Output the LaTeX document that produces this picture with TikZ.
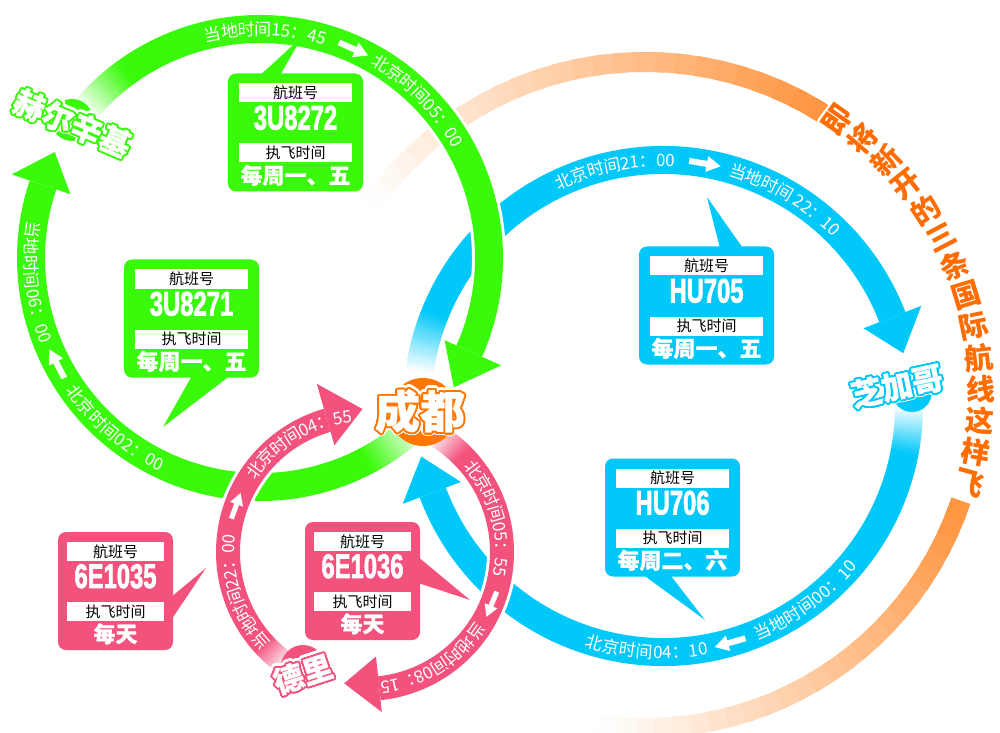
\documentclass[tikz,border=0pt]{standalone}
\usepackage{fontspec}
\usepackage{graphicx}
\usepackage{contour}
\usetikzlibrary{positioning,decorations.text}
\newfontfamily\cjk{Noto Sans CJK SC}
\newfontfamily\cjkheavy{Noto Sans CJK SC}[FakeBold=1, BoldFeatures={FakeBold=0.7}]
\newfontfamily\numfont{Liberation Sans}[BoldFeatures={FakeBold=2.5}]
\definecolor{flgreen}{RGB}{58,250,12}
\definecolor{flblue}{RGB}{0,200,248}
\definecolor{flpink}{RGB}{242,82,124}
\definecolor{cdorange}{RGB}{255,118,0}
\definecolor{bandorange}{RGB}{255,150,66}
\definecolor{titleorange}{RGB}{255,108,0}
\contournumber{32}
\newcommand\arcfont{\cjk\fontsize{17}{17}\selectfont}

\tikzset{
  infobox/.style={rectangle, rounded corners=8pt, minimum height=118pt, inner sep=0pt},
  infobar/.style={fill=white, minimum height=19pt, inner sep=0pt, text=black,
    font=\cjk\fontsize{15}{15}\selectfont},
  infono/.style={inner sep=0pt, text=white, font=\numfont\bfseries\fontsize{34}{34}\selectfont},
  infodays/.style={inner sep=0pt, text=white, font=\cjkheavy\bfseries\fontsize{22}{22}\selectfont},
  citydot/.style={circle, inner sep=0pt},
  citytext/.style={inner sep=0pt, text=white, font=\cjkheavy\bfseries\fontsize{#1}{#1}\selectfont},
  titlechar/.style={inner sep=0pt, text=titleorange, font=\cjk\bfseries\fontsize{29}{29}\selectfont},
  arctext/.style={decorate, decoration={text along path, raise=-6.5pt, text color=white,
    text={|\arcfont|#1}}},
  timearrow/.pic={\fill[white] (-16,-3) -- (2,-3) -- (2,-8) -- (16,0) -- (2,8) -- (2,3) -- (-16,3) -- cycle;}
}

% colour, centre, radius, width, white angle, full angle, end angle
\newcommand\fadeband[7]{%
  \draw[white, line width=#4pt+6pt] ([shift={(#5:#3pt)}]#2) arc[start angle=#5, end angle=#7, radius=#3pt];
  \foreach \k in {0,...,23}{%
    \pgfmathsetmacro\angA{(#5)+((#6)-(#5))*\k/24}%
    \pgfmathsetmacro\angB{(#5)+((#6)-(#5))*(\k+1.5)/24}%
    \pgfmathtruncatemacro\mixpc{100*(\k+0.5)/24}%
    \draw[#1!\mixpc!white, line width=#4pt] ([shift={(\angA:#3pt)}]#2) arc[start angle=\angA, end angle=\angB, radius=#3pt];
  }
  \draw[#1, line width=#4pt] ([shift={(#6:#3pt)}]#2) arc[start angle=#6, end angle=#7, radius=#3pt];
}
% colour, centre, radius, half width, base angle, tip angle
\newcommand\flighttip[6]{%
  \fill[#1] ([shift={({#5}:{#3pt+#4pt})}]#2) -- ([shift={({#6}:{#3pt})}]#2)
    -- ([shift={({#5}:{#3pt-#4pt})}]#2) -- cycle;
}
% name, position, width, bar width, colour, number, days
\newcommand\flightinfo[7]{%
  \node[infobox, fill=#5, minimum width=#3] (#1) at (#2) {};
  \node[infobar, minimum width=#4, below=10pt of #1.north] (#1-a) {航班号};
  \node[infono] (#1-b) at ([yshift=-44.5pt]#1.north) {\scalebox{0.7}[1]{#6}};
  \node[infobar, minimum width=#4, below=70pt of #1.north] (#1-c) {执飞时间};
  \node[infodays] (#1-d) at ([yshift=-102pt]#1.north) {#7};
}
% name, position, rotation, size, colour, text
\newcommand\cityname[6]{%
  \node[citytext=#4, rotate=#3] (#1-halo) at (#2) {\contourlength{3.8pt}\contour{white}{#6}};
  \node[citytext=#4, rotate=#3] (#1-name) at (#2) {\contourlength{1.8pt}\contour{#5}{#6}};
}

\begin{document}
\begin{tikzpicture}[x=1pt, y=1pt]
  \useasboundingbox (0,0) rectangle (1000,732);
  \fill[white] (0,0) rectangle (1000,732);
  \coordinate (cg) at (260,474);
  \coordinate (cb) at (663,326);
  \coordinate (cp) at (365,180);
  \coordinate (co) at (645,337);

  \fadeband{bandorange}{co}{333}{20}{145}{60}{57}
  \fadeband{bandorange}{co}{333}{20}{-98}{-22}{-18.5}

  \fadeband{flblue}{cb}{246}{28}{172}{158}{21.2}
  \flighttip{flblue}{cb}{246}{31}{21.2}{12.4}
  \fadeband{flblue}{cb}{246}{28}{0}{-11}{-159.4}
  \flighttip{flblue}{cb}{247}{31}{-159.4}{-168.2}

  \fadeband{flgreen}{cg}{229}{28}{-47}{-62}{-198.6}
  \flighttip{flgreen}{cg}{231}{31}{-198.6}{-207.3}
  \fadeband{flgreen}{cg}{229}{28}{140}{126}{-24}
  \flighttip{flgreen}{cg}{233}{31}{-24}{-33.7}

  \fadeband{flpink}{cp}{137}{24}{60}{45}{-84}
  \flighttip{flpink}{cp}{133}{28}{-84}{-99}
  \fadeband{flpink}{cp}{137}{24}{236}{222}{106}
  \flighttip{flpink}{cp}{143}{32}{106}{91}

  \path[arctext=当地时间15：45] ([shift={(104:229pt)}]cg) arc[start angle=104, end angle=66, radius=229pt];
  \path[arctext=北京时间05：00] ([shift={(60.3:229pt)}]cg) arc[start angle=60.3, end angle=20, radius=229pt];
  \path[arctext=当地时间06：00] ([shift={(170.8:229pt)}]cg) arc[start angle=170.8, end angle=212, radius=229pt];
  \path[arctext=北京时间02：00] ([shift={(214.2:229pt)}]cg) arc[start angle=214.2, end angle=255, radius=229pt];
  \path[arctext=北京时间21：00] ([shift={(115.8:246pt)}]cb) arc[start angle=115.8, end angle=82, radius=246pt];
  \path[arctext=当地时间 22：10] ([shift={(74.2:246pt)}]cb) arc[start angle=74.2, end angle=35, radius=246pt];
  \path[arctext=北京时间04：10] ([shift={(251.9:246pt)}]cb) arc[start angle=251.9, end angle=283, radius=246pt];
  \path[arctext=当地时间00：10] ([shift={(291.9:246pt)}]cb) arc[start angle=291.9, end angle=330, radius=246pt];
  \path[arctext=北京时间05：55] ([shift={(40.9:137pt)}]cp) arc[start angle=40.9, end angle=-25, radius=137pt];
  \path[arctext=当地时间08：15] ([shift={(-32:137pt)}]cp) arc[start angle=-32, end angle=-100, radius=137pt];
  \path[arctext=当地时间22：00] ([shift={(224:137pt)}]cp) arc[start angle=224, end angle=160, radius=137pt];
  \path[arctext=北京时间04：55] ([shift={(146.9:137pt)}]cp) arc[start angle=146.9, end angle=85, radius=137pt];

  \pic[rotate=-24.1] at ([shift={(65.9:229pt)}]cg) {timearrow};
  \pic[rotate=117.5] at ([shift={(207.5:229pt)}]cg) {timearrow};
  \pic[rotate=-9.8] at ([shift={(80.2:246pt)}]cb) {timearrow};
  \pic[rotate=195.8] at ([shift={(285.8:246pt)}]cb) {timearrow};
  \pic[rotate=-112.4, scale=0.85] at ([shift={(-22.4:137pt)}]cp) {timearrow};
  \pic[rotate=70.3, scale=0.85] at ([shift={(160.3:137pt)}]cp) {timearrow};

  \flightinfo{b3U8272}{295.5,599.5}{135pt}{113pt}{flgreen}{3U8272}{每周一、五}
  \coordinate (t3U8272) at (302,695);
  \fill[flgreen] ([xshift=-35.5pt,yshift=-2pt]b3U8272.north) -- (t3U8272)
    -- ([xshift=-15.5pt,yshift=-2pt]b3U8272.north) -- cycle;
  \flightinfo{b3U8271}{191.5,413.5}{135pt}{113pt}{flgreen}{3U8271}{每周一、五}
  \coordinate (t3U8271) at (163,305);
  \fill[flgreen] ([xshift=0.5pt,yshift=2pt]b3U8271.south) -- (t3U8271)
    -- ([xshift=38.5pt,yshift=2pt]b3U8271.south) -- cycle;
  \flightinfo{bHU705}{706.5,426.5}{135pt}{113pt}{flblue}{HU705}{每周一、五}
  \coordinate (tHU705) at (707,535);
  \fill[flblue] ([xshift=13.5pt,yshift=-2pt]bHU705.north) -- (tHU705)
    -- ([xshift=36.5pt,yshift=-2pt]bHU705.north) -- cycle;
  \flightinfo{bHU706}{672.5,214.5}{135pt}{113pt}{flblue}{HU706}{每周二、六}
  \coordinate (tHU706) at (705,112);
  \fill[flblue] ([xshift=-29.5pt,yshift=2pt]bHU706.south) -- (tHU706)
    -- ([xshift=-2.5pt,yshift=2pt]bHU706.south) -- cycle;
  \flightinfo{b6E1035}{115.5,141}{115pt}{97pt}{flpink}{6E1035}{每天}
  \coordinate (t6E1035) at (206,164);
  \fill[flpink] ([xshift=-2pt,yshift=-6pt]b6E1035.east) -- (t6E1035)
    -- ([xshift=-2pt,yshift=-29pt]b6E1035.east) -- cycle;
  \flightinfo{b6E1036}{362.5,151}{115pt}{97pt}{flpink}{6E1036}{每天}
  \coordinate (t6E1036) at (470,132);
  \fill[flpink] ([xshift=-2pt,yshift=24pt]b6E1036.east) -- (t6E1036)
    -- ([xshift=-2pt,yshift=-2pt]b6E1036.east) -- cycle;

  \node[citydot, fill=flgreen, minimum size=42pt] (helsinki) at (72,612) {};
  \node[citydot, fill=flblue, minimum size=40pt] (chicago) at (912,340) {};
  \node[citydot, fill=flpink, minimum size=44pt] (delhi) at (303,65) {};
  \node[citydot, fill=cdorange, minimum size=68pt] (chengdu) at (423,320) {};
  \cityname{helsinki}{72,608}{-23}{31}{flgreen}{赫尔辛基}
  \cityname{chicago}{897,345}{12}{31}{flblue}{芝加哥}
  \cityname{delhi}{303,57}{18}{30}{flpink}{德里}
  \cityname{chengdu}{420,320}{0}{45}{cdorange}{成都}

  \contourlength{2pt}
  \foreach \ch [count=\i from 0] in {即,将,新,开,的,三,条,国,际,航,线,这,样,飞}{
    \pgfmathsetmacro\ta{54.9-5.41*\i}
    \node[titlechar, rotate=\ta] (title-\i) at ([shift={(\ta:336pt)}]co) {\contour{white}{\ch}};
  }
\end{tikzpicture}
\end{document}
